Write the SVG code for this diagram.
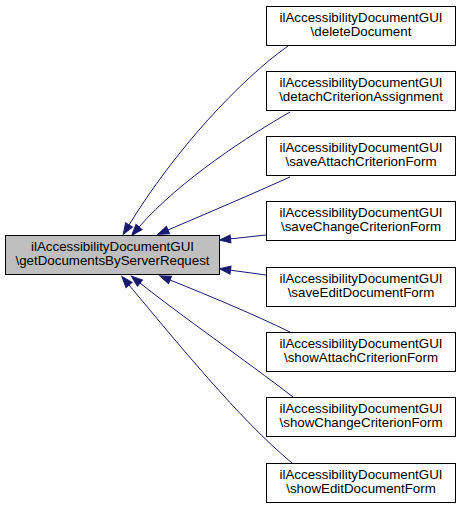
<svg xmlns="http://www.w3.org/2000/svg" width="460" height="509" viewBox="0 0 460 509">
<style>
.box{fill:#ffffff;stroke:#000000;stroke-width:1}
.main{fill:#bfbfbf;stroke:#000000;stroke-width:1}
text{font-family:"Liberation Sans",Arial,sans-serif;font-size:13.33px;fill:#000000;text-anchor:middle}
.edge{fill:none;stroke:#191970;stroke-width:1;marker-end:url(#arr)}
</style>
<defs>
<marker id="arr" markerUnits="userSpaceOnUse" markerWidth="12" markerHeight="9" refX="0" refY="4" orient="auto" overflow="visible">
<path d="M0,0 L11,4 L0,8 z" fill="#191970" stroke="#191970" stroke-width="1"/>
</marker>
</defs>
<rect width="460" height="509" fill="#ffffff"/>
<g id="connectors">
<path class="edge" d="M288,46 C240,80 175,150 129,225"/>
<path class="edge" d="M290,112 C250,135 180,180 139,227"/>
<path class="edge" d="M290,177 C250,195 210,212 168,230"/>
<path class="edge" d="M266,235 L230.5,238.9"/>
<path class="edge" d="M266,275 L230.5,270.2"/>
<path class="edge" d="M290,332 C255,315 210,296 170,280"/>
<path class="edge" d="M293,397 C245,360 180,315 140,283"/>
<path class="edge" d="M292,463 C240,420 175,340 129,285"/>
</g>
<g id="main">
<rect class="main" x="5.5" y="235.5" width="214" height="39"/>
<text x="112.5" y="250.5">ilAccessibilityDocumentGUI</text>
<text x="112.5" y="265">\getDocumentsByServerRequest</text>
</g>
<g id="n1">
<rect class="box" x="266.5" y="6.5" width="189" height="39"/>
<text x="361" y="21.5">ilAccessibilityDocumentGUI</text>
<text x="361" y="36">\deleteDocument</text>
</g>
<g id="n2">
<rect class="box" x="266.5" y="71.5" width="189" height="39"/>
<text x="361" y="86.5">ilAccessibilityDocumentGUI</text>
<text x="361" y="101">\detachCriterionAssignment</text>
</g>
<g id="n3">
<rect class="box" x="266.5" y="136.5" width="189" height="39"/>
<text x="361" y="151.5">ilAccessibilityDocumentGUI</text>
<text x="361" y="166">\saveAttachCriterionForm</text>
</g>
<g id="n4">
<rect class="box" x="266.5" y="201.5" width="189" height="39"/>
<text x="361" y="216.5">ilAccessibilityDocumentGUI</text>
<text x="361" y="231">\saveChangeCriterionForm</text>
</g>
<g id="n5">
<rect class="box" x="266.5" y="267.5" width="189" height="39"/>
<text x="361" y="282.5">ilAccessibilityDocumentGUI</text>
<text x="361" y="297">\saveEditDocumentForm</text>
</g>
<g id="n6">
<rect class="box" x="266.5" y="332.5" width="189" height="39"/>
<text x="361" y="347.5">ilAccessibilityDocumentGUI</text>
<text x="361" y="362">\showAttachCriterionForm</text>
</g>
<g id="n7">
<rect class="box" x="266.5" y="397.5" width="189" height="39"/>
<text x="361" y="412.5">ilAccessibilityDocumentGUI</text>
<text x="361" y="427">\showChangeCriterionForm</text>
</g>
<g id="n8">
<rect class="box" x="266.5" y="463.5" width="189" height="39"/>
<text x="361" y="478.5">ilAccessibilityDocumentGUI</text>
<text x="361" y="493">\showEditDocumentForm</text>
</g>
</svg>
